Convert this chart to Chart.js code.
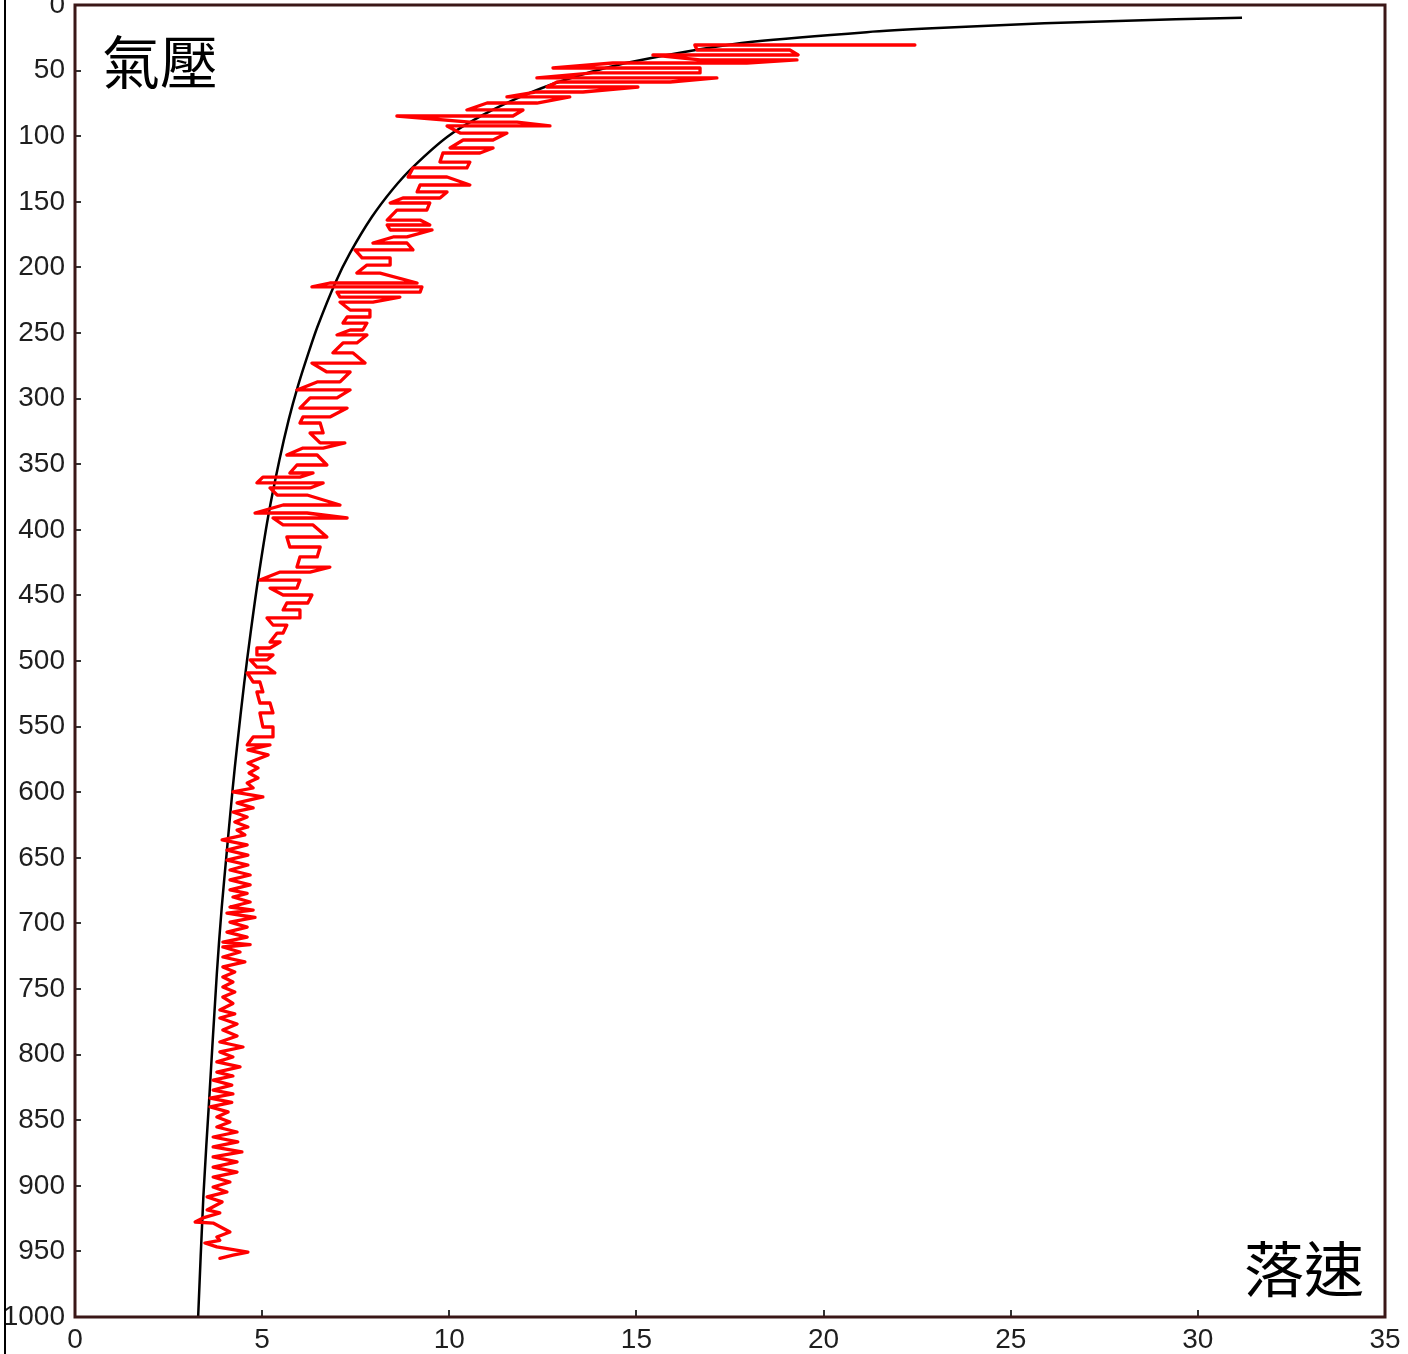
<!DOCTYPE html>
<html><head><meta charset="utf-8">
<script src="https://cdn.jsdelivr.net/npm/chart.js@4.4.1/dist/chart.umd.min.js"></script>
<style>
html,body{margin:0;padding:0;background:#fff;}
#wrap{position:relative;width:1408px;height:1354px;overflow:hidden;background:#fff;}
canvas{display:block;}
.lbl{position:absolute;font-family:'Noto Sans CJK TC','Noto Sans CJK SC',sans-serif;color:#000;line-height:1;white-space:nowrap;}
</style></head><body>
<div id="wrap"><canvas id="c" width="1408" height="1354"></canvas>
<div class="lbl" style="left:102px;top:30px;font-size:58px;">氣壓</div>
<div class="lbl" style="left:1244px;top:1236px;font-size:60px;">落速</div>
</div>
<script>
// Tick labels
const xTickValues = [0,5,10,15,20,25,30,35];
const yTickValues = [0,50,100,150,200,250,300,350,400,450,500,550,600,650,700,750,800,850,900,950,1000];

// Black reference curve (pressure, fall speed)
const curvePressure = [1000,908,832,738,688,644,598,565,517,479,440,390,347,316,291,265,245,212,189,161.6,140,123.5,100.4,83.8,70,57.9,45.7,33.8,28,20.7,17.8,14,10.9,9.7];
const curveSpeed    = [3.29,3.43,3.59,3.79,3.92,4.06,4.21,4.33,4.52,4.69,4.88,5.16,5.46,5.71,5.95,6.24,6.48,6.95,7.35,7.93,8.50,9.03,9.95,10.90,11.90,13.00,14.50,16.70,18.10,21.15,22.90,25.90,29.40,31.18];

// Red measured profile (pressure, fall speed)
const obsPressure = [
30.5,30.5,34.3,34.3,38.1,38.1,41.9,41.9,44.2,44.2,48.0,48.0,51.8,51.8,55.6,55.6,58.7,58.7,62.5,62.5,
66.3,66.3,70.1,70.1,74.7,74.7,80.0,80.0,84.6,84.6,89.2,89.2,92.2,92.2,97.6,97.6,102.9,102.9,109.0,109.0,
112.8,112.8,119.7,119.7,124.2,124.2,131.1,131.1,137.2,137.2,142.5,142.5,147.1,147.1,150.9,150.9,156.3,156.3,163.9,163.9,
167.7,167.7,171.5,171.5,176.8,176.8,181.4,181.4,186.7,186.7,192.8,192.8,198.2,198.2,204.3,204.3,211.9,211.9,214.9,214.9,
218.8,218.8,222.6,222.6,226.4,226.4,232.5,232.5,237.8,237.8,242.4,242.4,247.7,247.7,251.5,251.5,257.6,257.6,265.2,265.2,
272.9,272.9,279.7,279.7,287.3,287.3,293.4,293.4,299.5,299.5,307.2,307.2,314.0,314.0,318.6,318.6,326.2,326.2,333.8,333.8,
337.7,337.7,343.0,343.0,350.6,350.6,356.7,356.7,359.8,359.8,364.3,364.3,368.1,368.1,373.5,373.5,381.1,381.1,387.2,387.2,
391.0,391.0,396.3,396.3,405.5,405.5,413.1,413.1,420.7,420.7,428.4,428.4,432.2,432.2,438.3,438.3,444.4,444.4,449.7,449.7,
455.8,455.8,461.1,461.1,467.2,467.2,472.6,472.6,478.7,478.7,485.5,485.5,490.1,490.1,495.4,495.4,499.2,499.2,504.6,504.6,
509.1,509.1,516.0,516.0,523.6,523.6,532.0,532.0,539.6,539.6,550.3,550.3,557.9,557.9,564.0,564.0,
567.8,571.6,577.7,581.5,585.4,589.2,593.0,596.8,599.8,603.6,608.2,612.0,615.1,618.9,622.7,626.5,628.8,632.6,636.4,640.2,
644.1,647.9,651.7,655.5,659.3,663.1,666.9,670.7,674.5,677.2,679.9,683.7,687.5,689.8,692.1,695.5,699.0,702.8,706.6,710.4,
714.2,716.1,718.0,721.8,725.6,729.4,733.2,737.0,740.9,744.7,748.5,752.3,756.1,761.0,766.0,769.0,772.1,776.7,781.3,785.8,
790.4,794.2,798.0,801.8,805.6,809.4,813.3,816.3,819.4,823.2,827.0,830.0,833.1,836.5,839.9,843.7,847.6,851.4,855.2,859.0,
862.8,866.6,870.4,874.2,878.0,881.8,885.7,889.5,893.3,897.1,900.9,904.7,908.5,912.3,
918.4,920.7,924.5,927.6,928.4,935.2,939.0,941.6,943.6,946.6,950.5,952.9,955.3];
const obsSpeed = [
22.44,16.56,16.62,19.10,19.32,15.44,16.70,19.29,17.95,14.37,12.77,16.70,16.70,13.84,12.34,17.15,15.90,12.88,12.61,15.04,
13.57,12.34,11.54,13.22,12.34,11.01,10.47,11.97,11.70,8.60,10.55,11.81,12.69,9.94,10.29,11.54,11.17,10.37,10.02,11.17,
10.82,9.83,9.75,10.55,10.47,9.03,8.90,9.94,10.55,9.22,9.14,9.94,9.75,8.76,8.42,9.48,9.40,8.60,8.34,9.22,
9.48,8.34,8.42,9.54,8.87,8.50,7.96,8.87,9.03,7.48,7.67,8.42,8.42,7.80,7.53,8.15,9.14,6.81,6.33,9.27,
9.22,7.00,7.08,8.68,7.96,7.08,7.35,7.88,7.88,7.27,7.16,7.80,7.69,7.35,7.00,7.80,7.53,7.16,6.89,7.43,
7.75,6.33,6.73,7.35,7.08,6.47,5.93,7.35,7.00,6.28,6.01,7.27,6.81,6.09,6.01,6.55,6.63,6.28,6.55,7.21,
6.63,6.09,5.66,6.47,6.73,5.93,5.74,6.36,6.01,5.02,4.86,6.63,6.28,5.21,5.40,6.20,7.08,5.56,4.81,6.20,
7.27,5.29,5.56,6.36,6.73,5.66,5.74,6.55,6.47,6.01,5.93,6.81,6.28,5.48,4.94,6.01,5.93,5.21,5.56,6.33,
6.22,5.66,5.56,6.01,6.01,5.13,5.29,5.66,5.56,5.40,5.21,5.48,5.21,4.86,4.86,5.29,5.13,4.68,4.86,5.13,
5.34,4.60,4.76,4.94,5.02,4.86,4.94,5.21,5.29,4.94,5.02,5.29,5.29,4.76,4.60,5.21,
4.62,5.16,4.62,4.89,4.65,4.89,4.60,4.76,4.22,5.02,4.33,4.76,4.22,4.60,4.27,4.62,4.33,4.54,3.93,4.60,
4.06,4.62,4.06,4.62,4.14,4.68,4.14,4.68,4.14,4.60,4.22,4.68,4.14,4.76,4.06,4.81,4.14,4.60,4.06,4.60,
3.95,4.68,3.95,4.41,3.95,4.54,3.95,4.27,3.95,4.22,3.95,4.27,3.95,4.22,3.87,4.27,3.87,4.33,3.95,4.33,
3.87,4.49,3.87,4.22,3.79,4.41,3.79,4.22,3.69,4.19,3.69,4.22,3.61,4.19,3.61,4.09,3.79,4.14,3.79,4.33,
3.69,4.35,3.69,4.46,3.69,4.33,3.69,4.33,3.69,4.14,3.69,4.06,3.53,3.93,
3.53,3.87,3.42,3.21,3.69,4.14,3.79,3.87,3.47,3.79,4.62,4.22,3.87];

const obsData = obsPressure.map((p,i)=>({x:obsSpeed[i], y:p}));
const curveData = curvePressure.map((p,i)=>({x:curveSpeed[i], y:p}));

const framePlugin = {
  id:'frame',
  afterDatasetsDraw(chart){
    const ctx = chart.ctx, a = chart.chartArea, sx = chart.scales.x, sy = chart.scales.y;
    ctx.save();
    ctx.strokeStyle = '#333'; ctx.lineWidth = 2;
    ctx.beginPath();
    yTickValues.forEach(v=>{ const py = Math.round(sy.getPixelForValue(v)); ctx.moveTo(a.left, py); ctx.lineTo(a.left+6, py); });
    xTickValues.forEach(v=>{ const px = Math.round(sx.getPixelForValue(v)); ctx.moveTo(px, a.bottom); ctx.lineTo(px, a.bottom-7); });
    ctx.stroke();
    ctx.strokeStyle = '#3a1717'; ctx.lineWidth = 3;
    ctx.strokeRect(a.left, a.top, a.right-a.left, a.bottom-a.top);
    ctx.strokeStyle = '#000'; ctx.lineWidth = 2;
    ctx.beginPath(); ctx.moveTo(5,0); ctx.lineTo(5,chart.height); ctx.stroke();
    ctx.restore();
  }
};

const tickFont = {family:"'Liberation Sans', Arial, Helvetica, sans-serif", size:28};

new Chart(document.getElementById('c'), {
  type:'scatter',
  data:{datasets:[
    {label:'obs', data:obsData, showLine:true, borderColor:'#ff0000', borderWidth:3.3, borderJoinStyle:'round', borderCapStyle:'round', pointRadius:0, tension:0, fill:false},
    {label:'curve', data:curveData, showLine:true, borderColor:'#000000', borderWidth:2.5, pointRadius:0, tension:0.3, fill:false}
  ]},
  options:{
    responsive:false, animation:false, devicePixelRatio:1,
    layout:{padding:{top:5,right:23,left:0,bottom:0}},
    plugins:{legend:{display:false}, tooltip:{enabled:false}},
    scales:{
      x:{type:'linear', position:'bottom', min:0, max:35,
         grid:{display:false, drawTicks:false}, border:{display:false},
         ticks:{padding:6, color:'#1e1e1e', font:tickFont, maxRotation:0, autoSkip:false, callback:v=>String(v)},
         afterBuildTicks(s){ s.ticks = xTickValues.map(v=>({value:v})); },
         afterFit(s){ s.height = 37; s.paddingLeft = 0; s.paddingRight = 0; }},
      y:{type:'linear', position:'left', reverse:true, min:0, max:1000,
         grid:{display:false, drawTicks:false}, border:{display:false},
         ticks:{padding:10, color:'#1e1e1e', font:tickFont, autoSkip:false, callback:v=>String(v)},
         afterBuildTicks(s){ s.ticks = yTickValues.map(v=>({value:v})); },
         afterFit(s){ s.width = 75; s.paddingTop = 0; s.paddingBottom = 0; }}
    }
  },
  plugins:[framePlugin]
});
</script>
</body></html>
